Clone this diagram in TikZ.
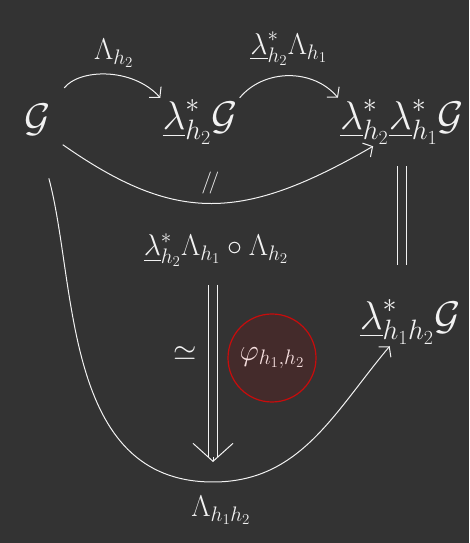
\RequirePackage{fix-cm}
\documentclass[tikz,border=0pt]{standalone}
\usepackage{amsmath,amssymb}
\usetikzlibrary{positioning,arrows.meta}
\definecolor{board}{RGB}{51,51,51}
\definecolor{chalk}{RGB}{242,242,242}
\definecolor{cellred}{RGB}{200,12,12}
\definecolor{cellfill}{RGB}{68,43,43}
\definecolor{cellink}{RGB}{245,222,222}
\newcommand{\lam}{\underline{\lambda}}

\begin{document}
\begin{tikzpicture}[
  x=1pt, y=1pt,
  every node/.style={text=chalk, inner sep=2pt},
  obj/.style={font=\fontsize{40}{46}\selectfont},
  lbl/.style={font=\fontsize{30}{34}\selectfont},
  arr/.style={-{Straight Barb[length=7pt,width=16pt]}, draw=chalk, line width=1pt},
  eq/.style={draw=chalk, double=board, double distance=8pt, line width=1pt},
  bighead/.style={draw=chalk, line width=1pt, -{Straight Barb[length=18pt,width=40pt]}},
  cell/.style={circle, draw=cellred, fill=cellfill, line width=1.2pt, minimum size=88pt, text=cellink, font=\fontsize{30}{34}\selectfont}
]
\fill[board] (0,0) rectangle (469,543);
\useasboundingbox (0,0) rectangle (469,543);

\node[obj] (g1) at (38,423) {$\mathcal{G}$};
\node[obj] (g2) at (200,421) {$\lam^*_{h_2}\mathcal{G}$};
\node[obj] (g3) at (402,421) {$\lam^*_{h_2}\lam^*_{h_1}\mathcal{G}$};
\node[obj] (g4) at (410,221) {$\lam^*_{h_1h_2}\mathcal{G}$};
\node[lbl] (mid) at (216,293) {$\lam^*_{h_2}\Lambda_{h_1}\circ\Lambda_{h_2}$};
\node[cell] (phi) at (272,185) {$\varphi_{h_1,h_2}$};
\coordinate (bot) at (213,61);

\draw[arr, shorten <=18pt] (g1.north east) to[bend left=50] node[above=6pt, xshift=8pt, lbl] {$\Lambda_{h_2}$} (g2.north west);
\draw[arr] (g2.north east) to[bend left=50] node[above=8pt, lbl] {$\lam^*_{h_2}\Lambda_{h_1}$} (g3.north west);
\draw[arr, shorten <=12pt] (g1.-50) to[out=-35, in=-150, looseness=1.2] node[above=6pt, font=\fontsize{22}{24}\selectfont] {$/\!/$} (g3.-140);
\draw[eq, shorten <=20pt, shorten >=33pt] (g3.south) -- (g3.south |- g4.north);
\draw[arr, shorten <=42pt] (g1.south) to[out=-75, in=180] (bot) node[below=12pt, xshift=8pt, lbl] {$\Lambda_{h_1h_2}$} to[out=0, in=-130] (g4);
\draw[bighead, shorten <=150pt, shorten >=20pt] (mid.south -| bot) -- (bot);
\draw[eq, shorten <=16pt, shorten >=25pt] (mid.south -| bot) -- node[pos=0.4, left=14pt, lbl] {$\simeq$} (bot);
\end{tikzpicture}
\end{document}
